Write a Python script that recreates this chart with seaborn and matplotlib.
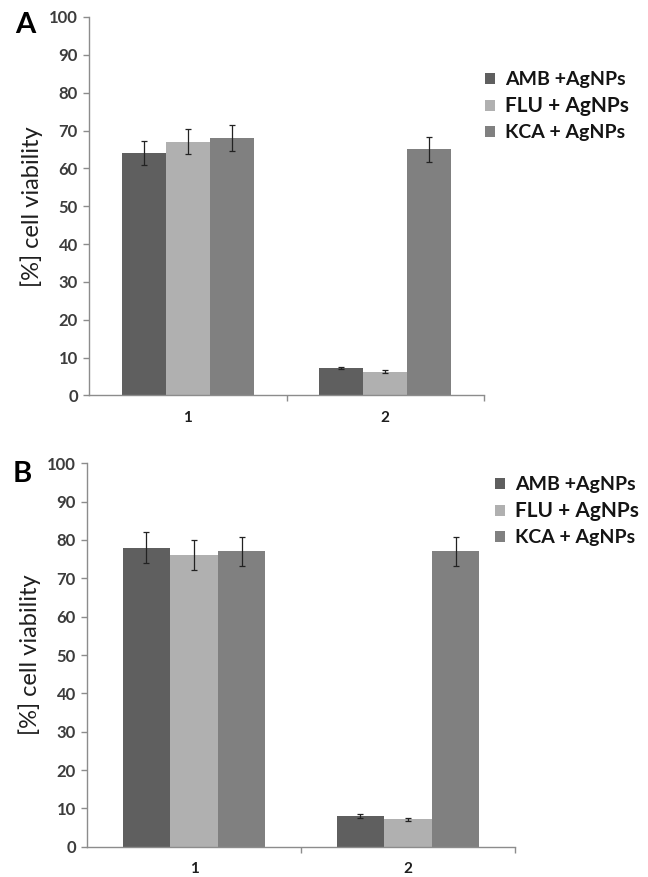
import matplotlib
matplotlib.use("Agg")
import matplotlib.pyplot as plt
import seaborn as sns
import pandas as pd
import numpy as np

# ---- data ----
groups = ["1", "2"]
series = ["AMB +AgNPs", "FLU + AgNPs", "KCA + AgNPs"]
colors = ["#5f5f5f", "#b0b0b0", "#808080"]

A_amb = [64.0, 7.3]
A_flu = [67.0, 6.3]
A_kca = [68.0, 65.0]
A_amb_err = [3.2, 0.3]
A_flu_err = [3.3, 0.4]
A_kca_err = [3.5, 3.2]

B_amb = [78.0, 8.0]
B_flu = [76.1, 7.1]
B_kca = [77.0, 77.0]
B_amb_err = [4.0, 0.4]
B_flu_err = [3.8, 0.3]
B_kca_err = [3.9, 3.9]

yticks = [0, 10, 20, 30, 40, 50, 60, 70, 80, 90, 100]
ylabel = "[%] cell viability"

sns.set_theme(style="white")
plt.rcParams["font.family"] = ["Lato", "DejaVu Sans"]

fig = plt.figure(figsize=(6.48, 8.77), dpi=100)

def make_df(vals, errs):
    rows = []
    for s, v, e in zip(series, vals, errs):
        for g, vv, ee in zip(groups, v, e):
            rows.append({"group": g, "series": s, "value": vv, "err": ee})
    return pd.DataFrame(rows)

def panel(rect, df, letter, letter_xy, legend_xy):
    ax = fig.add_axes(rect)
    sns.barplot(data=df, x="group", y="value", hue="series", order=groups,
                hue_order=series, palette=colors, width=2/3, errorbar=None,
                linewidth=0, saturation=1, ax=ax, legend=True)
    for cont, s in zip(ax.containers, series):
        sub = df[df["series"] == s].set_index("group").loc[groups]
        xs = [p.get_x() + p.get_width() / 2 for p in cont.patches]
        hs = [p.get_height() for p in cont.patches]
        ax.errorbar(xs, hs, yerr=sub["err"].values, fmt="none", ecolor="#222222",
                    elinewidth=0.9, capsize=2.5, capthick=0.9)
    ax.set_xlim(-0.5, 1.5)
    ax.set_ylim(0, 100)
    ax.set_yticks(yticks)
    ax.set_yticklabels([str(t) for t in yticks], fontsize=12, fontweight="bold", color="#3c3c3c")
    ax.set_xticks([0, 1])
    ax.set_xticklabels(groups, fontsize=11, fontweight="bold", color="#1e1e1e")
    ax.set_xticks([0.5, 1.5], minor=True)
    ax.tick_params(axis="x", which="major", length=0, pad=11)
    ax.tick_params(axis="x", which="minor", length=4, color="#8c8c8c", width=1, direction="out", bottom=True)
    ax.tick_params(axis="y", length=4, color="#8c8c8c", width=1, direction="out", left=True, pad=4)
    ax.set_xlabel("")
    ax.set_ylabel(ylabel, fontsize=17, color="#1e1e1e", labelpad=4)
    for sp in ["top", "right"]:
        ax.spines[sp].set_visible(False)
    for sp in ["left", "bottom"]:
        ax.spines[sp].set_color("#8c8c8c")
        ax.spines[sp].set_linewidth(1)
    ax.grid(False)
    handles, labels = ax.get_legend_handles_labels()
    ax.legend(handles, labels, loc="upper left", bbox_to_anchor=legend_xy,
              bbox_transform=fig.transFigure, frameon=False, fontsize=14,
              handlelength=0.5, handleheight=0.5, handletextpad=0.55,
              labelspacing=0.42, borderpad=0, borderaxespad=0)
    leg = ax.get_legend()
    for t in leg.get_texts():
        t.set_color("#141414")
        t.set_fontweight("bold")
    leg.get_texts()[1].set_fontsize(15)
    fig.text(letter_xy[0], letter_xy[1], letter, fontsize=21, fontweight="bold",
             color="black", ha="left", va="center")
    return ax

dfA = make_df([A_amb, A_flu, A_kca], [A_amb_err, A_flu_err, A_kca_err])
dfB = make_df([B_amb, B_flu, B_kca], [B_amb_err, B_flu_err, B_kca_err])

panel([89/648, 1 - 395.5/877, 395/648, 378.5/877], dfA, "A", (15/648, 1 - 25/877), (485/648, 1 - 71/877))
panel([87/648, 1 - 846.7/877, 428/648, 383.4/877], dfB, "B", (13/648, 1 - 474/877), (495/648, 1 - 476/877))

fig.savefig("out.png", dpi=100)
